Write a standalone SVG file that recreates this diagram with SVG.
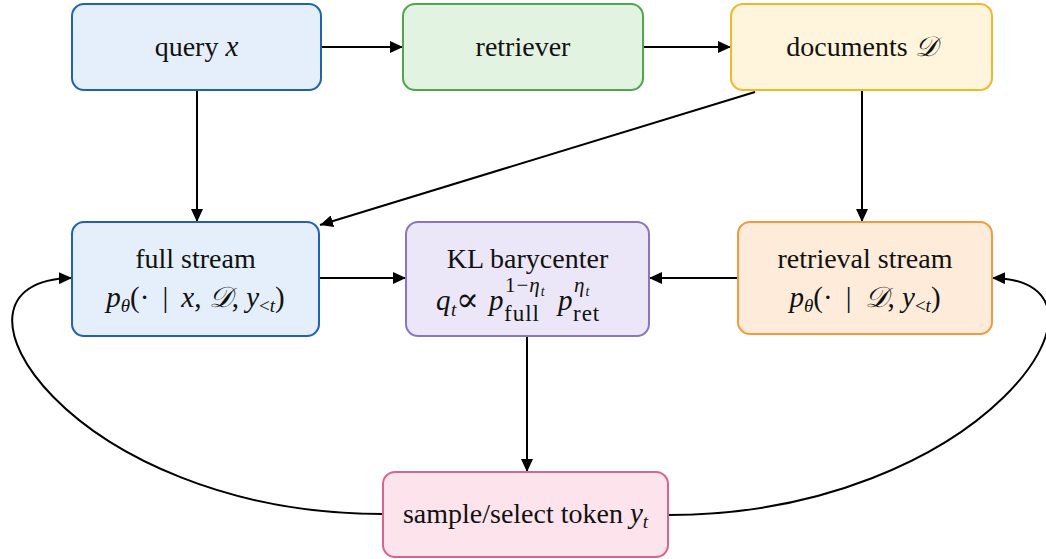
<svg xmlns="http://www.w3.org/2000/svg" width="1046" height="559" viewBox="0 0 1046 559">
<defs>
<marker id="ah" markerUnits="userSpaceOnUse" markerWidth="14" markerHeight="12" refX="13" refY="6" orient="auto">
<path d="M0,0 L13,6 L0,12 z" fill="#000"/>
</marker>
<style>
.box{stroke-width:2}
.t{font-family:"Liberation Serif","DejaVu Serif",serif;font-size:28px;fill:#111}
.m{font-family:"Liberation Serif","DejaVu Serif",serif;font-size:29px;fill:#111}
.i{font-style:italic}
.s{font-size:19px}
.sp{font-size:21px;letter-spacing:1px}
.sb{font-size:23px;letter-spacing:1px}
.ss{font-size:14px}
.c{fill:none;stroke:#000;stroke-width:2;marker-end:url(#ah)}
</style>
</defs>
<rect width="1046" height="559" fill="#fff"/>
<g id="connectors">
<path class="c" d="M321,47 H403"/>
<path class="c" d="M643,47 H731"/>
<path class="c" d="M197,90 V222"/>
<path class="c" d="M862,90 V222"/>
<path class="c" d="M755,92 L320,225"/>
<path class="c" d="M319,278 H406"/>
<path class="c" d="M738,278 H649"/>
<path class="c" d="M527,336 V472"/>
<path class="c" d="M383,514 C70,514 -80,280 72,278"/>
<path class="c" d="M668,515 C981,515 1142,280 992,278"/>
</g>
<g id="query">
<rect class="box" x="72" y="4" width="249" height="86" rx="12" fill="#e4effb" stroke="#1f63b0"/>
<text class="t" x="196.5" y="56" text-anchor="middle">query <tspan class="i" font-size="29">x</tspan></text>
</g>
<g id="retriever">
<rect class="box" x="403" y="4" width="240" height="86" rx="12" fill="#e2f4e1" stroke="#4ea64e"/>
<text class="t" x="523" y="56" text-anchor="middle">retriever</text>
</g>
<g id="documents">
<rect class="box" x="731" y="4" width="261" height="86" rx="12" fill="#fff5dc" stroke="#f2b82a"/>
<text class="t" x="861.5" y="56" text-anchor="middle">documents <tspan class="i">𝒟</tspan></text>
</g>
<g id="full">
<rect class="box" x="72" y="222" width="247" height="114" rx="12" fill="#e4effb" stroke="#1f63b0"/>
<text class="t" x="195.5" y="268" text-anchor="middle">full stream</text>
<text class="m" x="195.5" y="307" text-anchor="middle"><tspan class="i">p</tspan><tspan class="i s" dy="5">θ</tspan><tspan dy="-5">(·&#160;&#8201;|&#160;&#8201;</tspan><tspan class="i">x</tspan>,&#160;<tspan class="i">𝒟</tspan>,&#160;<tspan class="i">y</tspan><tspan class="s" dy="5">&lt;</tspan><tspan class="i s">t</tspan><tspan dy="-5">)</tspan></text>
</g>
<g id="kl">
<rect class="box" x="406" y="222" width="243" height="114" rx="12" fill="#ebe7f8" stroke="#8a76bf"/>
<text class="t" x="527.5" y="268" text-anchor="middle">KL barycenter</text>
<text class="m i" x="436" y="310">q</text>
<text class="m i s" x="451" y="316">t</text>
<text x="456" y="311" font-family="'DejaVu Serif',serif" font-size="34" fill="#111">∝</text>
<text class="m i" x="489" y="310">p</text>
<text class="m sp" x="505" y="292">1−<tspan class="i">η</tspan><tspan class="i ss" dy="4">t</tspan></text>
<text class="m sb" x="504" y="321">full</text>
<text class="m i" x="558" y="310">p</text>
<text class="m i sp" x="574" y="292">η<tspan class="ss" dy="4">t</tspan></text>
<text class="m sb" x="573" y="321">ret</text>
</g>
<g id="retrieval">
<rect class="box" x="738" y="222" width="254" height="112" rx="12" fill="#ffebd9" stroke="#f39a3c"/>
<text class="t" x="865" y="268" text-anchor="middle">retrieval stream</text>
<text class="m" x="865" y="307" text-anchor="middle"><tspan class="i">p</tspan><tspan class="i s" dy="5">θ</tspan><tspan dy="-5">(·&#160;&#8201;|&#160;&#8201;</tspan><tspan class="i">𝒟</tspan>,&#160;<tspan class="i">y</tspan><tspan class="s" dy="5">&lt;</tspan><tspan class="i s">t</tspan><tspan dy="-5">)</tspan></text>
</g>
<g id="sample">
<rect class="box" x="383" y="472" width="285" height="85" rx="12" fill="#fde3eb" stroke="#d9668a"/>
<text class="t" x="525.5" y="523" text-anchor="middle">sample/select token <tspan class="i" font-size="29">y</tspan><tspan class="i s" dy="5">t</tspan></text>
</g>
</svg>
